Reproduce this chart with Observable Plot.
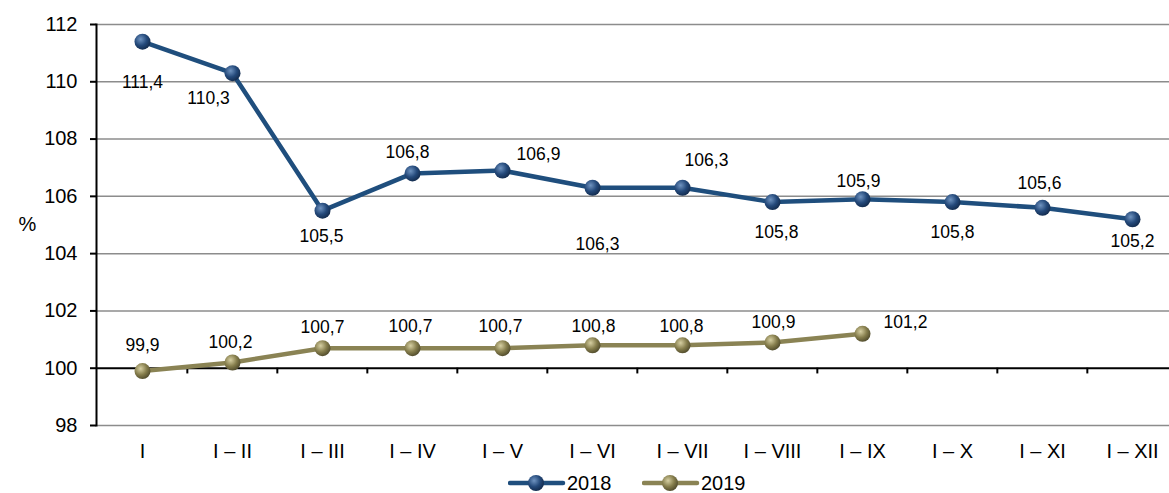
<!DOCTYPE html>
<html><head><meta charset="utf-8">
<script src="https://cdn.jsdelivr.net/npm/d3@7"></script>
<script src="https://cdn.jsdelivr.net/npm/@observablehq/plot@0.6"></script>
<style>
body{margin:0;background:#fff;font-family:"Liberation Sans",Arial,sans-serif;}
#wrap{position:relative;width:1169px;height:493px;overflow:hidden;}
#legend{position:absolute;left:0;top:468px;width:1169px;height:25px;font-size:20px;color:#000;}
.item{position:absolute;top:5px;height:20px;}
.item svg{position:absolute;left:0;top:0;display:block;}
.item span{position:absolute;top:0;line-height:20px;}
</style></head><body>
<div id="wrap"><div id="chart"></div><div id="legend"></div></div>
<script>
const periods = ["I","I – II","I – III","I – IV","I – V","I – VI","I – VII","I – VIII","I – IX","I – X","I – XI","I – XII"];
const values2018 = [111.4,110.3,105.5,106.8,106.9,106.3,106.3,105.8,105.9,105.8,105.6,105.2];
const values2019 = [99.9,100.2,100.7,100.7,100.7,100.8,100.8,100.9,101.2];
const seriesNames = ["2018","2019"];
const yTicks = [98,100,102,104,106,108,110,112];

// styling
const colors = {"2018":"#1f4e7d","2019":"#8a8354"};
const off2018 = [[0,41],[-24,25],[-1,26],[-5,-21],[36,-16],[5,57],[24,-27],[4,30],[-4,-18],[0,30],[-3,-24],[0,22]];
const off2019 = [[0,-26],[-2,-20],[0,-21],[-2,-22],[-2,-22],[1,-19],[-1,-19],[1,-20],[43,-11]];

const data2018 = values2018.map((v,i)=>({period:periods[i], value:v}));
const data2019 = values2019.map((v,i)=>({period:periods[i], value:v}));
const fmt = v => v.toFixed(1).replace(".", ",");

const xRange = [140.2, 1134];
const step = (xRange[1]-xRange[0])/(periods.length-1);

function labels(data, offs){
  return data.map((d,i)=>Plot.text([d], {x:"period", y:"value", text:d=>fmt(d.value), dx:offs[i][0], dy:offs[i][1], fill:"#000", fontSize:17.5}));
}

const chart = Plot.plot({
  width:1169, height:468,
  marginTop:24, marginBottom:43, marginLeft:96, marginRight:0,
  style:{fontFamily:'"Liberation Sans",Arial,sans-serif', fontSize:"20px", color:"#000", background:"#fff"},
  x:{type:"point", domain:periods, range:xRange, padding:0},
  y:{domain:[98,112]},
  marks:[
    Plot.ruleY(yTicks.filter(v=>v!==100), {stroke:"#8c8c8c", strokeWidth:1.5}),
    Plot.ruleY([100], {stroke:"#000", strokeWidth:2}),
    Plot.ruleX(periods.slice(1), {x:d=>d, y1:100, y2:99.8, dx:-step/2, stroke:"#000", strokeWidth:2}),
    Plot.frame({anchor:"left", stroke:"#000", strokeWidth:2}),
    Plot.axisY({ticks:yTicks, tickSize:6, tickPadding:13, tickFormat:d=>String(d), label:null, strokeWidth:2, strokeOpacity:1, fontSize:20}),
    Plot.axisX({tickSize:0, tickPadding:18, label:null, fontSize:20}),
    Plot.line(data2018, {x:"period", y:"value", stroke:colors["2018"], strokeWidth:4.5}),
    Plot.line(data2019, {x:"period", y:"value", stroke:colors["2019"], strokeWidth:4.5}),
    Plot.dot(data2018, {x:"period", y:"value", r:8, fill:"url(#g2018)", stroke:"none"}),
    Plot.dot(data2019, {x:"period", y:"value", r:8, fill:"url(#g2019)", stroke:"none"}),
    ...labels(data2018, off2018),
    ...labels(data2019, off2019),
    Plot.text(["%"], {frameAnchor:"left", dx:-78, fontSize:20, fill:"#000"})
  ]
});

const ns = "http://www.w3.org/2000/svg";
const defs = document.createElementNS(ns, "defs");
defs.innerHTML = `
<radialGradient id="g2018" cx="0.38" cy="0.35" r="0.7">
  <stop offset="0" stop-color="#6f93c0"/><stop offset="0.55" stop-color="#24497a"/><stop offset="1" stop-color="#12294a"/>
</radialGradient>
<radialGradient id="g2019" cx="0.38" cy="0.35" r="0.7">
  <stop offset="0" stop-color="#d6cfa2"/><stop offset="0.55" stop-color="#857d4c"/><stop offset="1" stop-color="#4d482a"/>
</radialGradient>`;
chart.prepend(defs);
document.getElementById("chart").appendChild(chart);

const legend = document.getElementById("legend");
const legendPos = {"2018":508, "2019":642};
seriesNames.forEach(name=>{
  const it = document.createElement("div");
  it.className = "item";
  it.style.left = legendPos[name] + "px";
  it.innerHTML = `<svg width="58" height="20"><line x1="2" x2="55" y1="10" y2="10" stroke="${colors[name]}" stroke-width="4.5" stroke-linecap="round"/><circle cx="28" cy="10" r="8" fill="url(#g${name})"/></svg><span style="left:59px">${name}</span>`;
  legend.appendChild(it);
});
</script>
</body></html>
